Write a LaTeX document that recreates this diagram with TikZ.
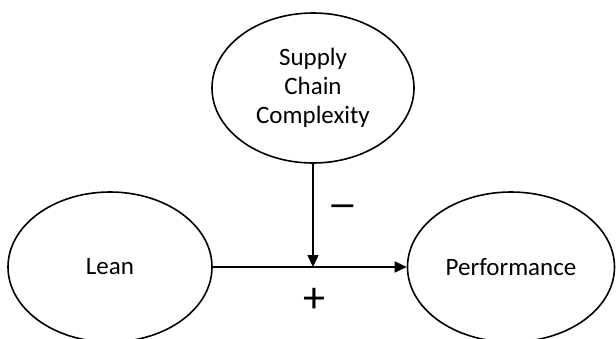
\documentclass[tikz,border=0pt]{standalone}
\usepackage{fontspec}
\usepackage{graphicx}
\setmainfont{Carlito}
\usetikzlibrary{arrows.meta,shapes.geometric}
\begin{document}
\begin{tikzpicture}[x=1pt,y=-1pt,
  construct/.style={draw,line width=1.6pt,ellipse,minimum width=#1,minimum height=150pt,inner sep=0pt,font=\fontsize{25}{29}\selectfont,align=center},
  link/.style={line width=1.6pt,-{Triangle[length=12pt,width=11pt]}},
  sign/.style={font=\fontsize{44}{44}\selectfont,inner sep=0pt}]
\useasboundingbox (0,0) rectangle (616,338);
\node[construct=204pt] (lean) at (110,267) {Lean};
\node[construct=207pt] (perf) at (511,267) {Performance};
\node[construct=202pt] (scc) at (313,88) {Supply\\Chain\\Complexity};
\draw[link] (lean) -- (perf);
\coordinate (j) at (313,267);
\draw[link] (scc) -- (j);
\node[sign] (minus) at (343,212) {\scalebox{1.4}[1]{–}};
\node[sign] (plus) at (314,300) {+};
\end{tikzpicture}
\end{document}
